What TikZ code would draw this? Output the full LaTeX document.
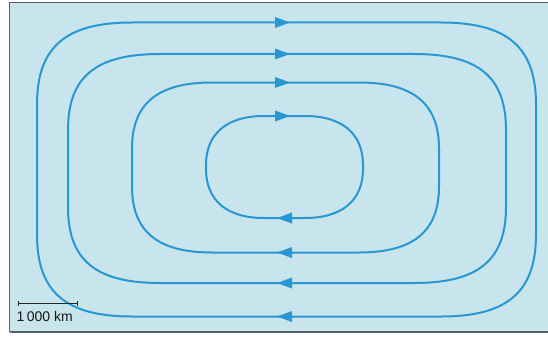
\documentclass[tikz,border=0pt]{standalone}
\usepackage{fontspec}
\setmainfont{Liberation Sans}
\usetikzlibrary{arrows.meta}
\definecolor{bgblue}{RGB}{200,228,236}
\definecolor{flow}{RGB}{40,152,212}
\definecolor{framegray}{RGB}{90,95,100}
% loop: L T R B rx ry k
\newcommand\flowloop[7]{%
  \pgfmathsetmacro\kx{#7*#5}\pgfmathsetmacro\ky{#7*#6}%
  \draw[flowline] (#1+#5,#2) -- (#3-#5,#2)
    .. controls (#3-#5+\kx,#2) and (#3,#2+#6-\ky) .. (#3,#2+#6)
    -- (#3,#4-#6)
    .. controls (#3,#4-#6+\ky) and (#3-#5+\kx,#4) .. (#3-#5,#4)
    -- (#1+#5,#4)
    .. controls (#1+#5-\kx,#4) and (#1,#4-#6+\ky) .. (#1,#4-#6)
    -- (#1,#2+#6)
    .. controls (#1,#2+#6-\ky) and (#1+#5-\kx,#2) .. (#1+#5,#2) -- cycle;}
\begin{document}
\begin{tikzpicture}[x=1pt,y=-1pt,
  flowline/.style={draw=flow,line width=2pt,line join=round},
  flowtip/.style={draw=none,fill=flow},
  frameline/.style={draw=framegray,line width=1.3pt}]
\useasboundingbox (0,0) rectangle (548,337);
\fill[white] (0,0) rectangle (548,337);
\fill[bgblue] (9.5,2.5) rectangle (548,332);
\draw[frameline] (548,2.5) -- (9.5,2.5) -- (9.5,332);
\draw[draw=framegray,line width=2.2pt] (9.5,332) -- (548,332);
% loops
\flowloop{37}{22.5}{536}{316.5}{95}{82}{0.70}
\flowloop{68}{54}{506}{283}{92}{76}{0.70}
\flowloop{132}{82.5}{439}{252.5}{80}{66}{0.68}
\flowloop{206}{116}{363}{218}{58}{49}{0.64}
% arrow heads (top: to the right, bottom: to the left)
\foreach \y in {22.5,54,82.5,116}{
  \fill[flowtip] (275,\y-5.5) -- (290,\y) -- (275,\y+5.5) -- cycle;}
\foreach \y in {252.5,283,316.5,218}{
  \fill[flowtip] (292,\y-5.5) -- (277,\y) -- (292,\y+5.5) -- cycle;}
% scale bar
\coordinate (sa) at (18,303);
\coordinate (sb) at (77,303);
\draw[line width=1pt,black!85] (sa) -- (sb);
\draw[line width=0.8pt,black!85] ([yshift=-2.5pt]sa) -- ([yshift=2.5pt]sa);
\draw[line width=0.8pt,black!85] ([yshift=-2.5pt]sb) -- ([yshift=2.5pt]sb);
\node[anchor=base west,inner sep=0pt,font=\fontsize{14}{16}\selectfont,text=black!90] (lab) at (16.5,321.5) {1\,000 km};
\end{tikzpicture}
\end{document}
